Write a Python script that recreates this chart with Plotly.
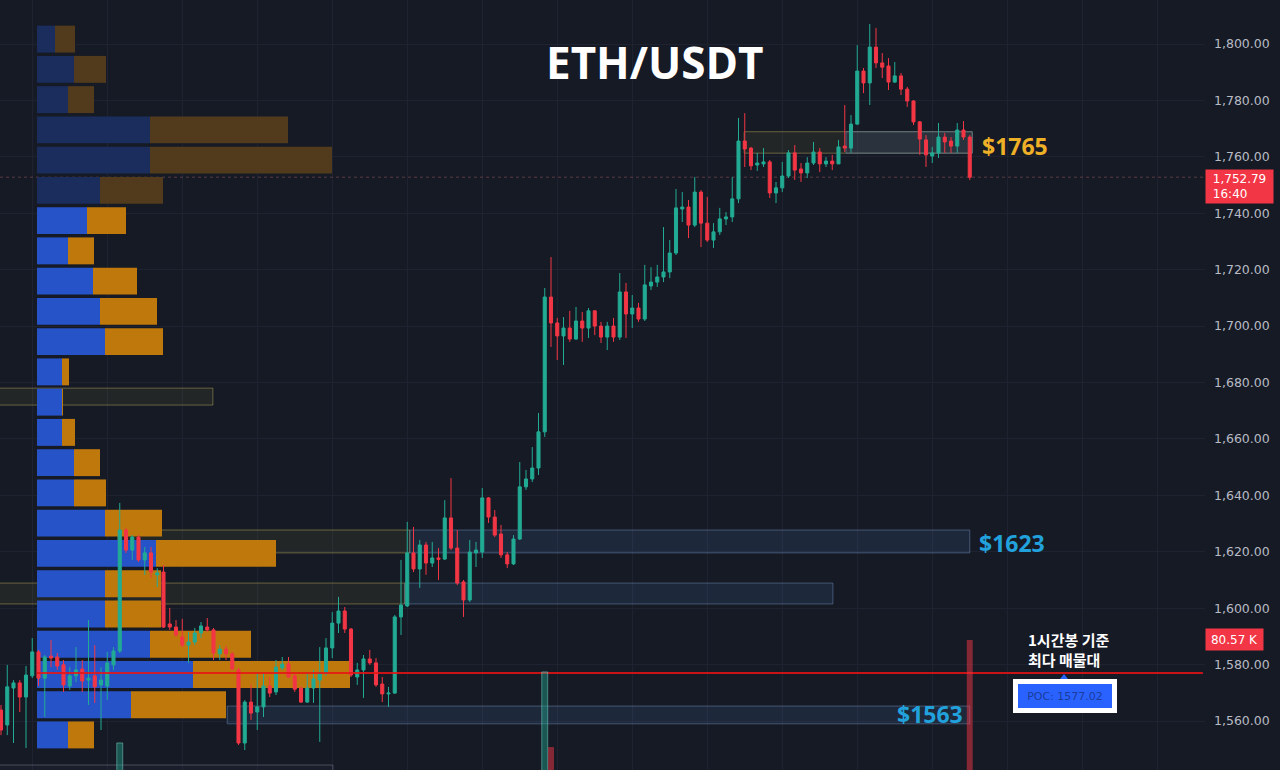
import plotly.graph_objects as go

# ---------------- DATA ----------------
opens = [1563.9,1558.6,1571.7,1573.5,1568.5,1576.0,1584.5,1575.2,1583.0,1582.7,
         1579.9,1572.4,1576.0,1578.4,1574.5,1576.0,1572.8,1572.4,1579.9,1584.8,
         1627.7,1620.6,1625.2,1617.1,1619.6,1611.8,1612.8,1594.4,1593.3,1589.8,
         1586.9,1588.0,1591.2,1593.3,1592.3,1583.8,1585.5,1583.8,1578.1,1552.2,
         1566.7,1563.2,1565.0,1572.4,1570.3,1578.8,1580.2,1576.0,1571.7,1566.7,
         1571.7,1574.5,1577.0,1585.9,1594.7,1599.0,1592.6,1575.6,1578.1,1582.0,
         1580.6,1573.1,1569.6,1569.9,1596.9,1600.8,1619.6,1613.9,1622.4,1616.0,
         1617.8,1617.4,1632.0,1621.3,1609.3,1602.9,1619.6,1619.9,1639.1,1632.3,
         1626.3,1618.9,1615.7,1624.5,1643.0,1645.8,1649.7,1662.5,1710.3,1701.1,
         1696.5,1699.3,1695.4,1701.8,1699.3,1705.4,1700.0,1696.1,1700.0,1696.1,
         1712.1,1704.3,1706.4,1702.5,1714.2,1715.6,1717.4,1719.2,1725.9,1741.5,
         1742.2,1735.8,1747.5,1736.5,1730.5,1733.4,1738.0,1738.7,1745.1,1765.6,
         1763.1,1757.1,1757.5,1758.2,1747.2,1749.0,1753.2,1761.4,1755.7,1754.3,
         1757.8,1761.7,1757.5,1758.5,1757.5,1763.8,1763.1,1771.6,1790.4,1786.2,
         1798.9,1793.3,1792.2,1786.5,1788.7,1784.0,1779.8,1772.4,1766.0,1760.3,
         1761.4,1767.0,1765.6,1763.8,1769.5,1767.0]
highs = [1565.7,1579.9,1574.5,1574.5,1579.5,1589.4,1585.2,1583.4,1588.7,1584.1,
         1581.6,1579.1,1586.2,1581.6,1595.8,1586.9,1579.1,1584.5,1586.2,1637.3,
         1628.4,1625.9,1625.9,1621.7,1621.7,1614.2,1615.3,1600.1,1595.8,1596.2,
         1591.6,1593.0,1595.1,1596.5,1593.0,1586.9,1586.6,1584.5,1578.8,1567.4,
         1572.8,1577.0,1577.0,1575.6,1581.6,1582.7,1582.7,1577.0,1572.1,1577.0,
         1578.1,1586.2,1589.4,1598.6,1604.0,1600.4,1593.0,1580.6,1583.4,1585.2,
         1582.3,1575.6,1572.1,1597.6,1617.1,1630.6,1628.8,1624.2,1623.5,1623.5,
         1621.3,1638.3,1646.1,1627.7,1610.0,1624.2,1623.5,1642.6,1639.4,1634.8,
         1629.5,1619.9,1625.9,1651.8,1649.0,1657.1,1669.2,1713.5,1724.5,1702.9,
         1703.2,1705.4,1706.8,1705.0,1706.4,1705.7,1701.5,1701.5,1702.9,1718.8,
         1715.3,1711.0,1708.2,1721.7,1720.9,1721.7,1735.1,1730.5,1748.6,1747.5,
         1744.7,1752.9,1748.2,1745.8,1736.5,1741.9,1740.4,1752.9,1773.8,1775.5,
         1763.5,1761.4,1763.1,1758.9,1751.1,1758.2,1762.4,1764.2,1757.8,1759.9,
         1765.3,1763.1,1759.9,1760.7,1766.0,1778.4,1774.8,1799.6,1791.5,1807.1,
         1805.7,1796.8,1795.0,1793.6,1789.7,1784.8,1780.1,1772.7,1767.7,1763.5,
         1772.0,1768.5,1767.0,1772.0,1772.7,1767.7]
lows = [1555.0,1555.0,1552.2,1563.2,1550.4,1575.2,1572.4,1561.4,1579.1,1578.1,
        1570.3,1571.0,1573.8,1570.3,1565.7,1566.4,1556.8,1567.4,1578.1,1584.1,
        1619.6,1617.1,1616.4,1611.8,1610.7,1607.5,1593.0,1592.3,1589.8,1586.2,
        1580.6,1586.9,1589.4,1591.6,1581.6,1581.6,1581.6,1578.1,1551.5,1549.7,
        1560.4,1556.8,1561.4,1568.5,1569.2,1578.1,1575.2,1570.3,1566.4,1566.4,
        1566.4,1552.6,1576.0,1582.3,1591.2,1591.2,1575.6,1572.8,1568.2,1579.9,
        1572.1,1566.7,1565.0,1569.6,1590.5,1600.4,1612.8,1607.2,1611.8,1614.6,
        1610.0,1617.1,1620.6,1608.2,1596.9,1602.2,1614.6,1617.8,1630.2,1625.2,
        1617.8,1614.2,1615.3,1624.2,1641.9,1644.7,1647.2,1660.7,1692.6,1688.0,
        1686.2,1694.4,1695.1,1694.4,1695.8,1696.8,1694.0,1691.5,1694.4,1695.1,
        1695.8,1699.3,1701.5,1701.8,1712.8,1713.9,1715.6,1717.0,1725.2,1736.9,
        1731.2,1735.1,1728.0,1729.8,1727.7,1732.3,1735.8,1736.9,1743.6,1756.4,
        1755.3,1755.0,1756.4,1745.4,1743.6,1747.5,1752.5,1751.8,1751.1,1752.5,
        1757.1,1754.6,1756.4,1755.3,1757.5,1761.7,1761.4,1771.3,1782.6,1778.4,
        1791.5,1787.9,1783.7,1786.2,1781.9,1777.7,1771.3,1760.7,1756.4,1757.8,
        1759.6,1761.4,1761.4,1761.4,1766.0,1751.8]
closes = [1556.8,1572.1,1573.5,1568.5,1576.3,1584.5,1575.2,1582.7,1582.3,1579.5,
          1572.8,1576.0,1578.1,1574.2,1575.2,1572.1,1574.5,1580.6,1584.8,1627.7,
          1620.6,1625.2,1617.1,1619.6,1612.8,1612.5,1593.3,1593.3,1590.5,1586.9,
          1588.0,1591.2,1593.7,1592.3,1584.1,1585.5,1583.8,1578.4,1552.2,1566.7,
          1562.8,1565.0,1572.4,1569.9,1579.1,1580.2,1575.6,1571.3,1566.7,1571.7,
          1574.9,1577.0,1585.9,1594.7,1599.0,1592.6,1576.3,1578.1,1582.0,1580.6,
          1572.8,1569.6,1569.9,1596.9,1601.1,1619.6,1613.9,1622.4,1616.0,1617.8,
          1617.3,1632.0,1621.3,1608.9,1602.9,1619.9,1620.6,1639.1,1632.3,1625.9,
          1618.9,1615.7,1624.5,1643.0,1645.8,1649.7,1662.5,1710.3,1701.1,1696.5,
          1699.3,1695.4,1701.8,1699.3,1705.4,1700.0,1696.1,1700.0,1696.1,1712.1,
          1704.3,1706.4,1702.5,1714.6,1715.6,1717.4,1719.2,1725.9,1741.9,1742.2,
          1735.8,1747.5,1736.5,1730.5,1733.4,1738.0,1738.7,1745.1,1765.6,1762.8,
          1756.8,1757.8,1758.2,1747.2,1749.0,1753.2,1761.4,1755.3,1754.3,1757.8,
          1761.7,1757.5,1758.5,1757.5,1763.5,1763.1,1771.6,1790.4,1786.2,1798.9,
          1793.3,1791.8,1786.5,1788.7,1784.0,1779.8,1772.4,1766.3,1760.7,1761.4,
          1767.0,1765.3,1763.8,1769.5,1767.0,1752.79]

# Volume profile (24 rows, bottom -> top), K
vp_up   = [15.5, 47, 78, 56.5, 34, 34, 59.5, 34, 18.5, 18.5, 12.5, 12.5,
           12.5, 34, 31.5, 28, 15.5, 25, 31.5, 56.5, 56.5, 15.5, 18.5, 9]
vp_down = [13, 47.5, 78.5, 50.5, 28, 28, 60, 28.5, 16, 13, 6.5, 0.5,
           3.5, 29, 28.5, 22, 13, 19.5, 31.5, 91, 69, 13, 16, 10]
poc_price = 1577.02
value_area_high = 1743.0

# Visible bar volumes (K) at the bottom
vol_idx = [19, 87, 88, 155]
vol_val = [32.6, 65.7, 30.7, 80.57]

# Zones: (low, high, start candle, end candle, kind)
zone_lo    = [1761.3, 1761.3, 1619.6, 1619.6, 1601.5, 1601.5, 1559.0, 1672.0, 1538.0]
zone_hi    = [1768.9, 1768.9, 1627.7, 1627.7, 1608.9, 1608.9, 1565.3, 1678.0, 1544.4]
zone_start = [118.9, 135.2, 18.7, 65.4, -1.0, 64.6, 36.2, -1.0, -1.0]
zone_end   = [155.4, 155.4, 65.4, 155.0, 64.6, 133.1, 155.0, 33.9, 53.1]
zone_kind  = ["olive", "blue", "olive", "blue", "olive", "blue", "blue", "olive", "grey"]

level_labels = ["$1765", "$1623", "$1563"]
level_prices = [1764.0, 1623.0, 1562.5]

current_price = closes[-1]
current_time = "16:40"
current_volume = "80.57 K"

# ---------------- FIGURE ----------------
BG = "#161a25"
GRID = "#1f2331"
UP = "#22ab94"
DN = "#f23645"

X_RANGE = [-18.5, 584]        # profile (volume) axis
X2_RANGE = [-0.16, 192.64]    # candle index axis


def idx_to_x(i):
    f = (i - X2_RANGE[0]) / (X2_RANGE[1] - X2_RANGE[0])
    return X_RANGE[0] + f * (X_RANGE[1] - X_RANGE[0])


n = len(opens)
idx = list(range(n))
lo_p, hi_p = min(lows), max(highs)
nrows = len(vp_up)
step = (hi_p - lo_p) / nrows
centers = [lo_p + step * (k + 0.5) for k in range(nrows)]
in_va = [c <= value_area_high for c in centers]
up_cols = ["#2753c8" if v else "#1b2d5c" for v in in_va]
dn_cols = ["#bf780c" if v else "#513b1c" for v in in_va]

fig = go.Figure()

# volume profile (base subplot)
fig.add_trace(go.Bar(orientation="h", y=centers, x=vp_up, width=step * 0.89,
                     marker=dict(color=up_cols, line=dict(width=0)),
                     xaxis="x", yaxis="y", hoverinfo="skip"))
fig.add_trace(go.Bar(orientation="h", y=centers, x=vp_down, base=vp_up, width=step * 0.89,
                     marker=dict(color=dn_cols, line=dict(width=0)),
                     xaxis="x", yaxis="y", hoverinfo="skip"))

# POC line (overlay subplot, above profile)
fig.add_trace(go.Scatter(x=[5.76, 192.3], y=[poc_price, poc_price], mode="lines",
                         line=dict(color="rgba(232,20,20,0.85)", width=2),
                         xaxis="x2", yaxis="y", hoverinfo="skip"))

# candles
fig.add_trace(go.Candlestick(x=idx, open=opens, high=highs, low=lows, close=closes,
                             increasing=dict(line=dict(color=UP, width=1), fillcolor=UP),
                             decreasing=dict(line=dict(color=DN, width=1), fillcolor=DN),
                             whiskerwidth=0, xaxis="x2", yaxis="y", hoverinfo="skip"))

# volume bars
vcols = []
vlines = []
for i in vol_idx:
    if closes[i] >= opens[i]:
        vcols.append("rgba(34,171,148,0.42)")
        vlines.append("rgba(120,200,190,0.55)")
    else:
        vcols.append("rgba(242,54,69,0.5)")
        vlines.append("rgba(242,54,69,0.0)")
fig.add_trace(go.Bar(x=vol_idx, y=vol_val, width=0.95,
                     marker=dict(color=vcols, line=dict(color=vlines, width=1)),
                     xaxis="x2", yaxis="y3", hoverinfo="skip"))

# zones (base subplot, between grid and traces)
styles = {
    "olive": dict(fill="rgba(130,130,60,0.12)", line="rgba(165,155,85,0.55)"),
    "blue": dict(fill="rgba(80,120,190,0.15)", line="rgba(110,140,180,0.5)"),
    "grey": dict(fill="rgba(80,90,110,0.08)", line="rgba(120,130,150,0.5)"),
}
shapes = []
for lo, hi, s, e, k in zip(zone_lo, zone_hi, zone_start, zone_end, zone_kind):
    st = styles[k]
    shapes.append(dict(type="rect", xref="x", yref="y", x0=idx_to_x(s), x1=idx_to_x(e),
                       y0=lo, y1=hi,
                       fillcolor=st["fill"], line=dict(color=st["line"], width=1),
                       layer="between"))
# current price dotted line
shapes.append(dict(type="line", xref="x", yref="y", x0=X_RANGE[0], x1=X_RANGE[1],
                   y0=current_price, y1=current_price,
                   line=dict(color="rgba(170,95,105,0.45)", width=1, dash="dot"),
                   layer="between"))
# POC pointer triangle
shapes.append(dict(type="path", xref="paper", yref="paper",
                   path="M 0.8797 0.1182 L 0.8863 0.1182 L 0.8830 0.1247 Z",
                   fillcolor="#2962ff", line=dict(width=0), layer="above"))

annotations = [
    dict(text="<b>ETH/USDT</b>", xref="paper", yref="paper", x=0.5436, y=0.9195,
         xanchor="center", yanchor="middle",
         showarrow=False, font=dict(family="Open Sans", size=44, color="#ffffff")),
    dict(text="<b>%s</b>" % level_labels[0], xref="x2", yref="y", x=156.6, y=level_prices[0],
         xanchor="left", yanchor="middle", showarrow=False,
         font=dict(family="Open Sans", size=23, color="#eeb027")),
    dict(text="<b>%s</b>" % level_labels[1], xref="x2", yref="y", x=156.2, y=level_prices[1],
         xanchor="left", yanchor="middle", showarrow=False,
         font=dict(family="Open Sans", size=23, color="#22a2dc")),
    dict(text="<b>%s</b>" % level_labels[2], xref="x2", yref="y", x=154.2, y=level_prices[2],
         xanchor="right", yanchor="middle", showarrow=False,
         font=dict(family="Open Sans", size=23, color="#22a2dc")),
    dict(text="<b>1시간봉 기준<br>최다 매물대</b>", xref="paper", yref="paper",
         x=0.8515, y=0.1565, xanchor="left", yanchor="middle", align="left", showarrow=False,
         font=dict(family="Noto Sans CJK KR", size=15, color="#ffffff")),
    dict(text="POC: %.2f" % poc_price, xref="paper", yref="paper", x=0.8838, y=0.0961,
         xanchor="center", yanchor="middle",
         showarrow=False, bgcolor="#2962ff", bordercolor="#ffffff", borderwidth=5,
         borderpad=3, width=88, height=18,
         font=dict(family="DejaVu Sans", size=11, color="#1c3c9c")),
    dict(text="&nbsp;{:,.2f}<br>&nbsp;{}".format(current_price, current_time),
         xref="paper", yref="y", x=1.0, y=1749.5, xanchor="left", yanchor="middle",
         showarrow=False, align="left", bgcolor="#f23645", borderpad=3, width=61, height=27,
         font=dict(family="DejaVu Sans", size=12, color="#ffffff")),
    dict(text=current_volume, xref="paper", yref="y", x=1.0, y=1588.9, xanchor="left",
         yanchor="middle",
         showarrow=False, bgcolor="#f23645", borderpad=3, width=51, height=15,
         font=dict(family="DejaVu Sans", size=12, color="#ffffff")),
]

fig.update_layout(
    width=1280, height=770,
    margin=dict(l=0, r=75, t=0, b=0),
    paper_bgcolor=BG, plot_bgcolor=BG,
    showlegend=False, hovermode=False, dragmode=False,
    barmode="overlay",
    font=dict(family="DejaVu Sans", color="#b8bbc4"),
    xaxis=dict(range=X_RANGE, visible=False, fixedrange=True,
               rangeslider=dict(visible=False)),
    xaxis2=dict(overlaying="x", range=X2_RANGE, showgrid=True, gridcolor=GRID,
                gridwidth=1, tick0=5, dtick=12, showticklabels=False, ticks="",
                zeroline=False, showline=False, fixedrange=True,
                rangeslider=dict(visible=False)),
    yaxis=dict(range=[1542.63, 1815.6], side="right", tick0=1560, dtick=20,
               tickformat=",.2f", showgrid=True, gridcolor=GRID, gridwidth=1,
               zeroline=False, showline=False, ticks="", ticklabelstandoff=8,
               tickfont=dict(family="DejaVu Sans", size=12.5, color="#b8bbc4"),
               fixedrange=True),
    yaxis3=dict(overlaying="y", range=[20, 378.8], visible=False, fixedrange=True),
    shapes=shapes,
    annotations=annotations,
)

fig.write_html("out.html", config=dict(displayModeBar=False, staticPlot=True))
